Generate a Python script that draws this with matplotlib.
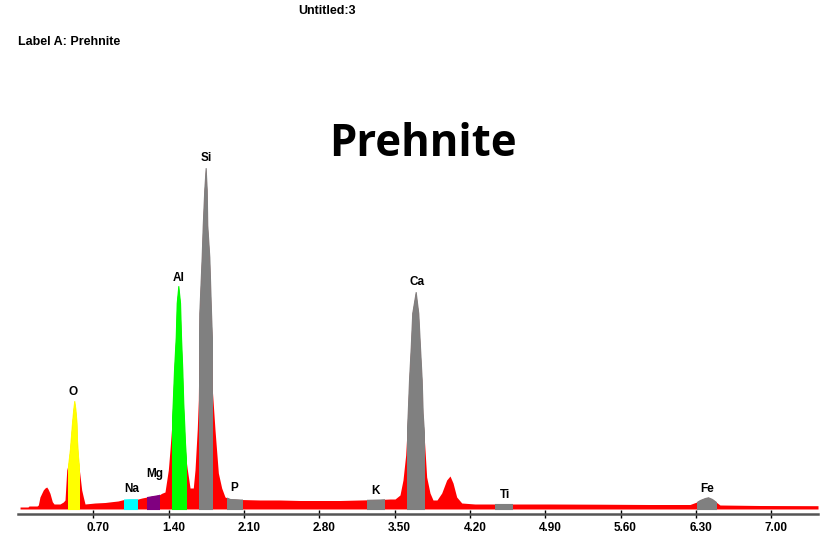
import matplotlib.pyplot as plt
import matplotlib.transforms as mtransforms
from matplotlib.patches import Rectangle

# spectrum outline: energy (keV) and counts
energy = [0.019, 0.093, 0.102, 0.177, 0.189, 0.204, 0.235, 0.251, 0.267, 0.279,
          0.297, 0.319, 0.335, 0.390, 0.421, 0.437, 0.453, 0.467, 0.483, 0.502,
          0.514, 0.523, 0.533, 0.544, 0.548, 0.558, 0.567, 0.592, 0.607, 0.623,
          0.716, 0.809, 0.871, 0.929, 0.985, 1.041, 1.106, 1.152, 1.199, 1.255,
          1.310, 1.336, 1.366, 1.397, 1.413, 1.428, 1.438, 1.450, 1.466, 1.475,
          1.490, 1.506, 1.515, 1.527, 1.536, 1.546, 1.552, 1.561, 1.573, 1.599,
          1.629, 1.645, 1.666, 1.676, 1.685, 1.707, 1.717, 1.731, 1.744, 1.754,
          1.759, 1.778, 1.794, 1.803, 1.806, 1.831, 1.862, 1.893, 1.924, 1.970,
          2.063, 2.249, 2.435, 2.621, 2.807, 2.993, 3.178, 3.364, 3.457, 3.504,
          3.550, 3.578, 3.603, 3.612, 3.622, 3.634, 3.650, 3.664, 3.696, 3.720,
          3.736, 3.752, 3.761, 3.773, 3.798, 3.829, 3.857, 3.894, 3.938, 3.984,
          4.015, 4.043, 4.077, 4.124, 4.247, 4.480, 4.944, 5.409, 5.874, 6.245,
          6.308, 6.338, 6.385, 6.413, 6.450, 6.487, 6.524, 6.896, 7.435]
counts = [2, 2, 3, 3, 4, 12, 19, 21, 22, 20,
          15.7, 7.3, 5, 5, 7, 9, 39, 45, 60, 86,
          100, 108, 100, 86, 69, 52, 42, 19, 12, 5,
          6, 6.5, 7.3, 8, 9.5, 9.7, 9.7, 11, 12, 13,
          14, 15.7, 17, 39, 60, 82, 106, 139, 172, 206,
          223, 206, 172, 139, 106, 82, 66, 50, 40, 21,
          21, 39, 80, 109, 196, 252, 284, 319, 341, 319,
          284, 252, 196, 169, 119, 79, 36, 21, 12, 10,
          9.5, 9, 9, 8.5, 8.5, 8.5, 9, 9.5, 10, 10,
          14, 29, 54, 72, 96, 129, 162, 196, 217, 196,
          162, 129, 96, 76, 32, 16, 9, 9, 16, 29,
          33, 26, 12, 6, 5, 5, 5, 4.8, 4.5, 4.5,
          7, 9, 11, 11.7, 10, 7, 4, 3.5, 3.3]

# element windows
win_names = ['O', 'Na', 'Mg', 'Al', 'Si', 'P', 'K', 'Ca', 'Ti', 'Fe']
win_lo = [0.467, 0.985, 1.200, 1.434, 1.682, 1.940, 3.246, 3.612, 4.433, 6.307]
win_hi = [0.567, 1.109, 1.310, 1.559, 1.806, 2.085, 3.404, 3.773, 4.588, 6.487]
win_colors = ['#ffff00', '#00ffff', '#800080', '#00ff00', '#808080',
              '#808080', '#808080', '#808080', '#808080', '#808080']
label_x = [0.511, 1.059, 1.273, 1.496, 1.747, 2.007, 3.318, 3.708, 4.526, 6.403]
label_y = [117, 20, 35, 231, 351, 21, 18, 227, 14, 20]

ticks = [0.70, 1.40, 2.10, 2.80, 3.50, 4.20, 4.90, 5.60, 6.30, 7.00]

fig = plt.figure(figsize=(8.25, 5.39), dpi=100)
ax = fig.add_axes([18 / 825, 25 / 539, 800 / 825, 359 / 539])
ax.set_xlim(0, 7.435)
ax.set_ylim(-5, 354)

ax.fill_between(energy, 0, counts, color='#ff0000', lw=0, antialiased=False)
for lo, hi, col in zip(win_lo, win_hi, win_colors):
    # thin edge of the same colour hides the red underneath
    band = ax.fill_between(energy, 0, counts, facecolor=col, edgecolor=col,
                           lw=0.8)
    band.set_clip_path(Rectangle((lo, -1), hi - lo, 400, transform=ax.transData))

lab_font = dict(family='Liberation Sans', weight='bold', size=8.5)
for name, x, y in zip(win_names, label_x, label_y):
    ax.text(x, y, name, ha='center', va='center', clip_on=False, **lab_font)

for s in ax.spines.values():
    s.set_visible(False)
ax.axhline(-5, color='#555555', lw=1.8, clip_on=False)
ax.set_yticks([])
ax.set_xticks(ticks)
ax.set_xticklabels(['%.2f' % t for t in ticks], **lab_font)
ax.tick_params(axis='x', direction='inout', length=6, width=1, color='black', pad=3)
# tick labels sit a little right of their tick marks
shift = mtransforms.ScaledTranslation(5 / 100, 0, fig.dpi_scale_trans)
for lbl in ax.get_xticklabels():
    lbl.set_transform(lbl.get_transform() + shift)

fig.text(327.5 / 825, 1 - 11 / 539, 'Untitled:3', ha='center', va='center',
         family='Liberation Sans', weight='bold', size=9)
fig.text(18 / 825, 1 - 42 / 539, 'Label A: Prehnite', ha='left', va='center',
         family='Liberation Sans', weight='bold', size=9)
fig.text(423 / 825, 1 - 145 / 539, 'Prehnite', ha='center', va='center',
         family='Open Sans', weight='bold', size=31.5)

fig.savefig('out.png', dpi=100)
